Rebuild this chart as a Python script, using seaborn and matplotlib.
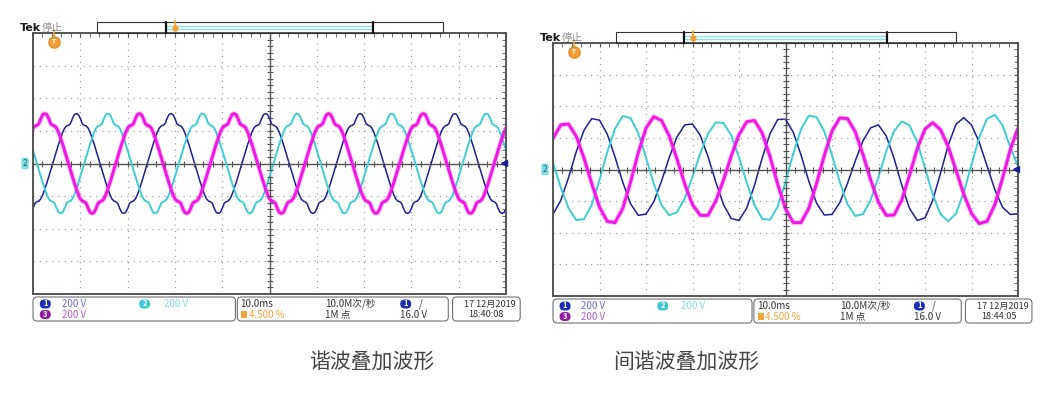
import numpy as np
import pandas as pd
import matplotlib
matplotlib.use("Agg")
import matplotlib.pyplot as plt
from matplotlib.patches import FancyBboxPatch, Rectangle
from matplotlib.ticker import MultipleLocator
import seaborn as sns

# scope: 10 ms/div, 200 V/div, 10 x 8 divisions
# left scope (harmonics): one 20 ms cycle read every 20/48 ms, same shape on all three phases
harm_cycle_v = [0, 40, 80, 120, 156, 190, 216, 230, 234, 244, 276, 300,
                306, 300, 276, 244, 234, 230, 216, 190, 156, 120, 80, 40,
                0, -40, -80, -120, -156, -190, -216, -230, -234, -244, -276, -300,
                -306, -300, -276, -244, -234, -230, -216, -190, -156, -120, -80, -40]
harm_step_ms = 20 / 48
harm_peak_ms = [9.17, 15.83, 2.5]      # first positive peak of ch1, ch2, ch3

# right scope (interharmonics): read every 5/3 ms from 0 to 100 ms
inter_t_ms = np.linspace(0, 100, 61)
inter_ch1 = [-284, -196, -52, 112, 248, 322, 312, 224, 80, -80, -216, -290, -282, -204, -74, 76,
             206, 282, 288, 216, 82, -78, -222, -310, -322, -244, -100, 74, 226, 316, 318, 236,
             92, -72, -212, -288, -284, -210, -88, 54, 182, 264, 282, 212, 72, -98, -246, -322,
             -306, -194, -24, 154, 286, 328, 282, 172, 24, -126, -238, -284, -280]
inter_ch2 = [44, -114, -244, -320, -314, -224, -66, 110, 258, 338, 326, 230, 76, -90, -224, -290,
             -270, -182, -46, 102, 226, 298, 294, 216, 76, -84, -226, -312, -318, -234, -80, 100,
             254, 340, 332, 242, 90, -78, -220, -294, -282, -192, -46, 114, 242, 304, 280, 172,
             10, -158, -282, -328, -278, -146, 32, 204, 320, 346, 280, 142, 20]
inter_ch3 = [196, 282, 288, 210, 72, -90, -238, -328, -336, -246, -82, 106, 262, 334, 310, 212,
             66, -92, -222, -290, -290, -200, -66, 86, 220, 302, 310, 230, 82, -94, -248, -336,
             -336, -246, -90, 88, 242, 326, 322, 238, 94, -68, -208, -290, -288, -194, -36, 132,
             256, 296, 252, 144, -4, -156, -278, -342, -328, -224, -56, 124, 262]

channels = ["1", "2", "3"]
ch_colors = ["#1c1f96", "#3fcdd4", "#f018e4"]
ch_widths = [1.1, 1.4, 2.1]
captions = ["谐波叠加波形", "间谐波叠加波形"]
stamps = ["18:40:08", "18:44:05"]

sns.set_style("white")
plt.rcParams["font.family"] = ["Noto Sans CJK SC", "DejaVu Sans"]

W, H = 1063, 400
fig = plt.figure(figsize=(W / 100, H / 100), dpi=100)
fig.patch.set_facecolor("white")

# grid boxes in pixels (x0, y0, x1, y1)
boxes = [(33, 33, 506, 294), (553, 43, 1018, 296)]
axes = [fig.add_axes([x0 / W, 1 - y1 / H, (x1 - x0) / W, (y1 - y0) / H]) for x0, y0, x1, y1 in boxes]


def scope(ax):
    ax.set_xlim(0, 100)
    ax.set_ylim(-800, 800)
    ax.set_xticks(np.arange(0, 101, 10))
    ax.set_yticks(np.arange(-800, 801, 200))
    ax.xaxis.set_minor_locator(MultipleLocator(2))
    ax.yaxis.set_minor_locator(MultipleLocator(40))
    ax.grid(True, which="major", color="#a0a0a0", linestyle=(0, (1, 4)), lw=0.9)
    ax.tick_params(which="both", direction="in", top=True, right=True, length=3,
                   color="#555555", labelbottom=False, labelleft=False)
    for s in ax.spines.values():
        s.set_color("#555555")
        s.set_linewidth(1.4)
    ax.axhline(0, color="#555555", lw=1.0, zorder=1)
    ax.axvline(50, color="#555555", lw=1.0, zorder=1)
    ax.plot(np.arange(0, 101, 2), np.zeros(51), ls="none", marker="|", ms=4, mew=0.8, color="#555555")
    ax.plot(np.full(41, 50), np.arange(-800, 801, 40), ls="none", marker="_", ms=4, mew=0.8, color="#555555")
    ax.set_xlabel("")
    ax.set_ylabel("")


# left: harmonic waveform
ax = axes[0]
frames = []
n = len(harm_cycle_v)
for ch, peak in zip(channels, harm_peak_ms):
    frames.append(pd.DataFrame({
        "t": peak - 25 + np.arange(7 * n) * harm_step_ms,
        "v": np.tile(harm_cycle_v, 7),
        "ch": ch,
    }))
harm = pd.concat(frames, ignore_index=True)
for ch, c, lw in zip(channels, ch_colors, ch_widths):
    d = harm[harm["ch"] == ch]
    if ch == "3":
        sns.lineplot(data=d, x="t", y="v", ax=ax, color=c, lw=lw + 1.3, alpha=0.3,
                     estimator=None, sort=False)
    sns.lineplot(data=d, x="t", y="v", ax=ax, color=c, lw=lw, estimator=None, sort=False)
scope(ax)

# right: interharmonic waveform
ax = axes[1]
inter = pd.DataFrame({"t": inter_t_ms, "1": inter_ch1, "2": inter_ch2, "3": inter_ch3})
for ch, c, lw in zip(channels, ch_colors, ch_widths):
    if ch == "3":
        sns.lineplot(data=inter, x="t", y=ch, ax=ax, color=c, lw=lw + 1.3, alpha=0.3,
                     estimator=None, sort=False)
    sns.lineplot(data=inter, x="t", y=ch, ax=ax, color=c, lw=lw, estimator=None, sort=False)
scope(ax)

# overlay in pixel coordinates for the scope chrome
ov = fig.add_axes([0, 0, 1, 1], zorder=5)
ov.set_xlim(0, W)
ov.set_ylim(H, 0)
ov.axis("off")
ov.patch.set_alpha(0)


def badge(x, y, label, color):
    ov.add_patch(FancyBboxPatch((x - 5.5, y - 4.5), 11, 9, boxstyle="round,pad=0,rounding_size=4.5",
                                fc=color, ec="none"))
    ov.text(x, y, label, color="white", fontsize=5.5, fontweight="bold", ha="center", va="center")


def chrome(gx0, gy0, gx1, gy1, stamp):
    w = gx1 - gx0
    cy = (gy0 + gy1) / 2
    ov.text(gx0 - 13, gy0 - 5, "Tek", fontsize=8, fontweight="bold", color="#1a1a1a",
            ha="left", va="center", family="DejaVu Sans")
    ov.text(gx0 + 9, gy0 - 5, "停止", fontsize=7.5, color="#8a8a8a", ha="left", va="center")
    # record bar
    bx0, bx1 = gx0 + 0.135 * w, gx0 + 0.866 * w
    ov.add_patch(Rectangle((bx0, gy0 - 11), bx1 - bx0, 10.5, fill=False, ec="#333333", lw=0.8))
    ix0, ix1 = gx0 + 0.281 * w, gx0 + 0.719 * w
    ov.plot([ix0, ix1], [gy0 - 7.5, gy0 - 7.5], color="#8fdfe6", lw=1.0)
    ov.plot([ix0, ix1], [gy0 - 4, gy0 - 4], color="#8fdfe6", lw=1.0)
    ov.plot([ix0, ix0], [gy0 - 11, gy0 - 0.5], color="#111111", lw=1.6)
    ov.plot([ix1, ix1], [gy0 - 11, gy0 - 0.5], color="#111111", lw=1.6)
    ov.plot([ix0 + 9, ix0 + 9], [gy0 - 12, gy0 - 2], color="#f0a030", lw=1.2)
    ov.plot(ix0 + 9, gy0 - 5, marker="o", ms=3.5, color="#f0a030")
    # trigger position marker
    tx = gx0 + 21
    ov.plot([tx, tx], [gy0 - 3, gy0 + 5], color="#f0a030", lw=1.2)
    ov.plot(tx, gy0 + 9, marker="o", ms=8, color="#f3a23a", mec="#e08a20")
    ov.text(tx, gy0 + 9, "T", fontsize=4.5, color="white", ha="center", va="center", fontweight="bold")
    # channel 2 ground marker and trigger level
    ov.text(gx0 - 8, cy, "2", fontsize=6, color="#1d6a70", ha="center", va="center",
            bbox=dict(boxstyle="round,pad=0.15", fc="#7fdde2", ec="none"))
    ov.plot(gx1 - 2, cy - 1, marker="<", ms=4, color="#1c1f96")
    # status panels
    py0 = gy1 + 3
    for a, b in [(0.0, 0.428), (0.432, 0.878), (0.887, 1.03)]:
        ov.add_patch(FancyBboxPatch((gx0 + a * w, py0), (b - a) * w, 24,
                                    boxstyle="round,pad=0,rounding_size=4",
                                    fc="white", ec="#707070", lw=0.8))
    r1, r2 = py0 + 7, py0 + 17.5
    fs = 7
    badge(gx0 + 0.026 * w, r1, "1", "#1a2db4")
    ov.text(gx0 + 0.061 * w, r1, "200 V", fontsize=fs, color="#6b6bd2", va="center")
    badge(gx0 + 0.236 * w, r1, "2", "#3cc9cf")
    ov.text(gx0 + 0.276 * w, r1, "200 V", fontsize=fs, color="#80dde1", va="center")
    badge(gx0 + 0.026 * w, r2, "3", "#8f1ca0")
    ov.text(gx0 + 0.061 * w, r2, "200 V", fontsize=fs, color="#b65ccb", va="center")
    ov.text(gx0 + 0.438 * w, r1, "10.0ms", fontsize=fs, color="#333333", va="center")
    ov.add_patch(Rectangle((gx0 + 0.440 * w, r2 - 3.5), 6, 7, fc="#f2a43a", ec="none"))
    ov.text(gx0 + 0.456 * w, r2, "4.500 %", fontsize=fs, color="#f2a43a", va="center")
    ov.text(gx0 + 0.617 * w, r1, "10.0M次/秒", fontsize=fs, color="#333333", va="center")
    ov.text(gx0 + 0.617 * w, r2, "1M 点", fontsize=fs, color="#333333", va="center")
    badge(gx0 + 0.788 * w, r1, "1", "#1a2db4")
    ov.text(gx0 + 0.815 * w, r1, "/", fontsize=fs, color="#333333", va="center")
    ov.text(gx0 + 0.776 * w, r2, "16.0 V", fontsize=fs, color="#333333", va="center")
    ov.text(gx0 + 0.912 * w, r1, "17 12月2019", fontsize=6.6, color="#333333", va="center")
    ov.text(gx0 + 0.921 * w, r2, stamp, fontsize=6.6, color="#333333", va="center")


for (x0, y0, x1, y1), stamp in zip(boxes, stamps):
    chrome(x0, y0, x1, y1, stamp)

ov.text(372, 362, captions[0], fontsize=15, color="#444444", ha="center", va="center")
ov.text(686, 362, captions[1], fontsize=15, color="#444444", ha="center", va="center")

fig.savefig("out.png", dpi=100, facecolor="white")
